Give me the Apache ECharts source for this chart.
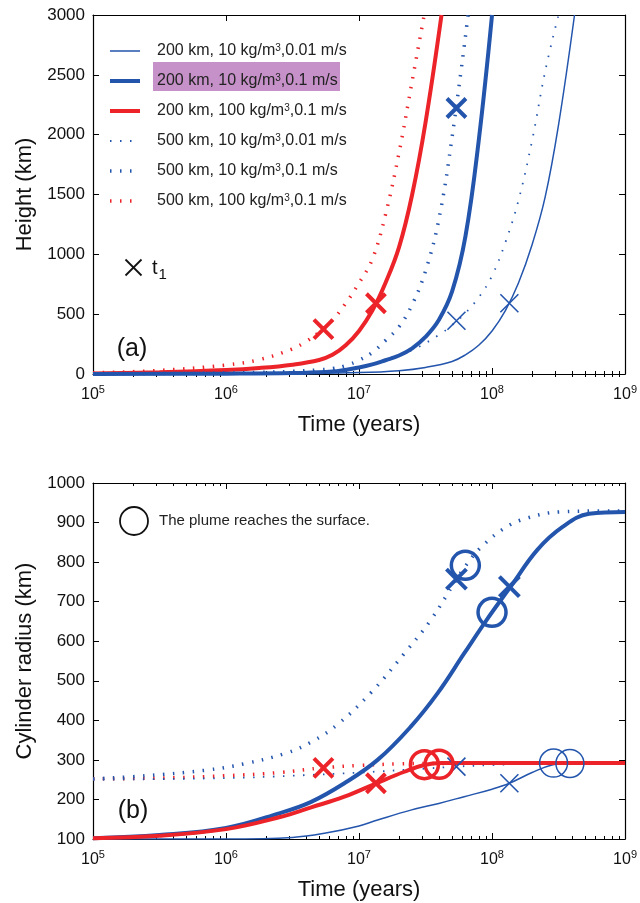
<!DOCTYPE html>
<html><head><meta charset="utf-8">
<script src="https://cdn.jsdelivr.net/npm/echarts@6/dist/echarts.min.js"></script>
<style>html,body{margin:0;padding:0;background:#fff}#c{width:640px;height:903px}</style>
</head><body><div id="c"></div>
<script>
// ---------- labels ----------
const seriesNames = ['200 km, 10 kg/m³,0.01 m/s','200 km, 10 kg/m³,0.1 m/s','200 km, 100 kg/m³,0.1 m/s',
                     '500 km, 10 kg/m³,0.01 m/s','500 km, 10 kg/m³,0.1 m/s','500 km, 100 kg/m³,0.1 m/s'];
const timeTicks = [1e5, 1e6, 1e7, 1e8, 1e9];

// ---------- panel (a): height (km) ----------
const tA1 = [1e5,1e6,3.16e6,1e7,2e7,3.16e7,5.01e7,6.31e7,7.94e7,1e8,1.26e8,1.58e8,2e8,2.51e8,3.16e8,4.17e8];
const hA1 = [0,2,5,12,28,55,105,160,240,360,530,760,1080,1480,2080,3000];
const tA2 = [1e5,1e6,3.16e6,6.31e6,1e7,1.26e7,1.58e7,2e7,2.51e7,3.16e7,3.98e7,5.01e7,6.31e7,7.94e7,1e8];
const hA2 = [0,3,8,20,55,80,115,155,215,310,451,690,1150,1950,3000];
const tA3 = [1e5,3.16e5,1e6,1.78e6,3.16e6,5.01e6,6.31e6,7.94e6,1e7,1.26e7,1.58e7,2e7,2.51e7,3.16e7,4.17e7];
const hA3 = [5,15,33,50,78,117,160,240,360,530,760,1060,1500,2100,3000];
const tA4 = [1e5,1e6,3.16e6,7.94e6,1e7,1.58e7,2.51e7,3.98e7,5.01e7,6.31e7,7.94e7,1e8,1.26e8,1.58e8,2e8,2.51e8,3.16e8];
const hA4 = [0,5,15,39,50,120,200,326,410,510,640,820,1100,1450,1950,2530,3000];
const tA5 = [1e5,3.16e5,1e6,1.78e6,3.16e6,5.01e6,6.31e6,7.94e6,1e7,1.26e7,1.58e7,2e7,2.51e7,3.16e7,3.98e7,5.01e7,6.61e7];
const hA5 = [0,3,8,14,22,35,45,70,115,180,280,395,580,860,1290,1980,3000];
const tA6 = [1e5,3.16e5,1e6,1.78e6,3.16e6,3.98e6,5.01e6,6.31e6,7.94e6,1e7,1.26e7,1.58e7,2e7,2.51e7,3.09e7];
const hA6 = [10,30,75,120,210,270,350,450,590,760,960,1330,1850,2450,3000];
// t1 markers (a)
const t1ThinBlueA_t = [5.4e7, 1.35e8], t1ThinBlueA_h = [445, 591];
const t1ThickBlueA_t = [5.4e7], t1ThickBlueA_h = [2223];
const t1RedA_t = [5.4e6, 1.34e7], t1RedA_h = [375, 591];

// ---------- panel (b): cylinder radius (km) ----------
const tB1 = [1e5,1e6,3.16e6,5.62e6,1e7,1.38e7,2.45e7,3.98e7,6.17e7,1e8,1.35e8,2e8,2.82e8,3.98e8,1e9];
const rB1 = [100,100,104,115,133,148,173,190,207,226,241,268,287,292,292];
const tB2 = [1e5,3.16e5,1e6,2.51e6,4.37e6,7.76e6,1.38e7,2.45e7,3.89e7,6.17e7,9.12e7,1.38e8,2.19e8,3.39e8,5.37e8,1e9];
const rB2 = [102,110,128,165,194,241,300,384,468,569,654,738,831,889,922,927];
const tB3 = [1e5,3.16e5,1e6,2.51e6,4.37e6,7.76e6,1.35e7,2.19e7,3.09e7,4.17e7,1e9];
const rB3 = [102,108,125,155,180,207,241,270,287,292,292];
const tB4 = [1e5,1e6,3.16e6,1e7,3.16e7,5.37e7,1e8,2e8,3.16e8,1e9];
const rB4 = [250,254,260,268,278,283,287,291,292,292];
const tB5 = [1e5,2.51e5,7.08e5,1.41e6,2.82e6,4.37e6,6.92e6,1.23e7,2.19e7,3.47e7,5.37e7,6.31e7,8.13e7,1.23e8,1.82e8,3.24e8,5.75e8,1e9];
const rB5 = [252,260,274,291,317,345,390,470,569,654,755,790,835,885,911,927,929,929];
const tB6 = [1e5,3.16e5,1e6,2.51e6,5.37e6,1e7,2e7,3.16e7,1e9];
const rB6 = [252,254,260,268,280,286,290,291,292];
// t1 markers (b)
const t1ThinBlueB_t = [5.4e7, 1.35e8], t1ThinBlueB_r = [283, 241];
const t1ThickBlueB_t = [5.4e7, 1.35e8], t1ThickBlueB_r = [757, 738];
const t1RedB_t = [5.4e6, 1.34e7], t1RedB_r = [280, 241];
// surface-reached markers (b)
const surfThickBlue_t = [6.3e7, 1.0e8], surfThickBlue_r = [792, 673];
const surfRed_t = [3.1e7, 4.0e7], surfRed_r = [288, 289];
const surfThinBlue_t = [2.9e8, 3.85e8], surfThinBlue_r = [292, 291];

// ---------- styling ----------
const FONT = '"Liberation Sans", Arial, Helvetica, sans-serif';
const BLUE = '#2355ad', RED = '#ec2328';
const XPATH = 'path://M0,0L10,10M10,0L0,10';
const zip = (a, b) => a.map((v, i) => [v, b[i]]);

const minorTicks = [];
for (let e = 5; e < 9; e++) for (let k = 2; k <= 9; k++) minorTicks.push(k * Math.pow(10, e));

function xAxesFor(g) {
  const base = {type: 'log', logBase: 10, min: 1e5, max: 1e9, gridIndex: g, splitLine: {show: false},
                axisLabel: {show: false}, axisPointer: {show: false}};
  const line = {show: true, onZero: false, lineStyle: {color: '#000', width: 1.2}};
  const tk = (vals, len) => ({show: true, inside: true, length: len, customValues: vals, lineStyle: {color: '#000', width: 1}});
  return [
    Object.assign({}, base, {position: 'bottom', axisLine: line, axisTick: tk(timeTicks, 6),
      axisLabel: {show: true, customValues: timeTicks, margin: 10,
        formatter: v => '{b|10}{s|' + Math.round(Math.log10(v)) + '}',
        rich: {b: {fontSize: 16, lineHeight: 16, padding: [6, 0, 0, 0], color: '#111', fontFamily: FONT},
               s: {fontSize: 11, lineHeight: 11, verticalAlign: 'top', color: '#111', fontFamily: FONT}}},
      name: 'Time (years)', nameLocation: 'middle', nameGap: 40,
      nameTextStyle: {fontSize: 22, color: '#111', fontFamily: FONT}}),
    Object.assign({}, base, {position: 'bottom', axisLine: {show: false}, axisTick: tk(minorTicks, 3)}),
    Object.assign({}, base, {position: 'top', axisLine: line, axisTick: tk(timeTicks, 6)}),
    Object.assign({}, base, {position: 'top', axisLine: {show: false}, axisTick: tk(minorTicks, 3)})
  ];
}
function yAxesFor(g, min, max, interval, name) {
  const line = {show: true, onZero: false, lineStyle: {color: '#000', width: 1.2}};
  return [
    {type: 'value', gridIndex: g, min, max, interval, position: 'left', axisLine: line,
     axisTick: {inside: true, length: 6, lineStyle: {color: '#000'}}, splitLine: {show: false},
     axisLabel: {fontSize: 17, color: '#111', margin: 8, fontFamily: FONT, formatter: v => String(v)},
     name, nameLocation: 'middle', nameGap: 47, nameTextStyle: {fontSize: 22, color: '#111', fontFamily: FONT}},
    {type: 'value', gridIndex: g, min, max, interval, position: 'right', axisLine: line,
     axisTick: {inside: true, length: 6, lineStyle: {color: '#000'}}, splitLine: {show: false}, axisLabel: {show: false}}
  ];
}
function line(name, t, v, color, width, dotted, g) {
  return {type: 'line', name, xAxisIndex: 4 * g, yAxisIndex: 2 * g, data: zip(t, v),
    symbol: 'none', showSymbol: false, smooth: 0.4, z: 2, silent: true,
    lineStyle: {color, width, type: dotted ? [1.5, 8.5] : 'solid', cap: 'butt'},
    itemStyle: {color}};
}
function marks(t, v, g, color, size, bw, symbol) {
  return {type: 'scatter', xAxisIndex: 4 * g, yAxisIndex: 2 * g, data: zip(t, v), symbol,
    symbolSize: size, z: 3, silent: true,
    itemStyle: {color: 'rgba(0,0,0,0)', borderColor: color, borderWidth: bw, opacity: 1}};
}

const series = [
  line(seriesNames[5], tA6, hA6, RED, 3.5, true, 0),
  line(seriesNames[2], tA3, hA3, RED, 4, false, 0),
  line(seriesNames[4], tA5, hA5, BLUE, 3.5, true, 0),
  line(seriesNames[1], tA2, hA2, BLUE, 4, false, 0),
  line(seriesNames[3], tA4, hA4, BLUE, 1.8, true, 0),
  line(seriesNames[0], tA1, hA1, BLUE, 1.5, false, 0),
  marks(t1ThinBlueA_t, t1ThinBlueA_h, 0, BLUE, 18, 1.6, XPATH),
  marks(t1ThickBlueA_t, t1ThickBlueA_h, 0, BLUE, 19, 4, XPATH),
  marks(t1RedA_t, t1RedA_h, 0, RED, 19, 4, XPATH),

  line(seriesNames[5], tB6, rB6, RED, 3.5, true, 1),
  line(seriesNames[3], tB4, rB4, BLUE, 1.8, true, 1),
  line(seriesNames[4], tB5, rB5, BLUE, 3.5, true, 1),
  line(seriesNames[1], tB2, rB2, BLUE, 4, false, 1),
  line(seriesNames[0], tB1, rB1, BLUE, 1.5, false, 1),
  line(seriesNames[2], tB3, rB3, RED, 4, false, 1),
  marks(t1ThinBlueB_t, t1ThinBlueB_r, 1, BLUE, 18, 1.6, XPATH),
  marks(t1ThickBlueB_t, t1ThickBlueB_r, 1, BLUE, 20, 4, XPATH),
  marks(t1RedB_t, t1RedB_r, 1, RED, 19, 4, XPATH),
  marks(surfThickBlue_t, surfThickBlue_r, 1, BLUE, 28, 3.5, 'circle'),
  marks(surfRed_t, surfRed_r, 1, RED, 28, 3.5, 'circle'),
  marks(surfThinBlue_t, surfThinBlue_r, 1, BLUE, 28, 1.5, 'circle')
];

const chart = echarts.init(document.getElementById('c'), null, {renderer: 'canvas'});
chart.setOption({
  animation: false,
  backgroundColor: '#fff',
  grid: [{left: 93, right: 14, top: 15, height: 359}, {left: 93, right: 14, top: 483, height: 356}],
  xAxis: [...xAxesFor(0), ...xAxesFor(1)],
  yAxis: [...yAxesFor(0, 0, 3000, 500, 'Height (km)'), ...yAxesFor(1, 100, 1000, 100, 'Cylinder radius (km)')],
  legend: {
    data: seriesNames, orient: 'vertical', left: 103, top: 38, itemWidth: 30, itemHeight: 14, itemGap: 14,
    selectedMode: false, z: 5,
    itemStyle: {opacity: 0},
    lineStyle: {width: 'inherit', type: 'inherit', opacity: 1},
    formatter: n => { const p = n.split('³'); return '{a|' + p[0] + '}{s|3}{a|' + p[1] + '}'; },
    textStyle: {padding: [0, 0, 0, 12],
      rich: {a: {fontSize: 16, lineHeight: 16, color: '#222', fontFamily: FONT},
             s: {fontSize: 10, lineHeight: 10, verticalAlign: 'top', color: '#222', fontFamily: FONT}}}
  },
  graphic: [
    {type: 'rect', z: 1, shape: {x: 153, y: 62, width: 187, height: 29}, style: {fill: '#c690c8'}},
    {type: 'line', z: 6, shape: {x1: 125.5, y1: 259.5, x2: 141.5, y2: 275.5}, style: {stroke: '#111', lineWidth: 1.8}},
    {type: 'line', z: 6, shape: {x1: 141.5, y1: 259.5, x2: 125.5, y2: 275.5}, style: {stroke: '#111', lineWidth: 1.8}},
    {type: 'text', z: 6, x: 152, y: 268, style: {text: '{t|t}{s|1}', verticalAlign: 'middle',
      rich: {t: {fontSize: 20, lineHeight: 20, fill: '#111', fontFamily: FONT},
             s: {fontSize: 15, lineHeight: 15, padding: [14, 0, 0, 1], fill: '#111', fontFamily: FONT}}}},
    {type: 'text', z: 6, x: 132, y: 349, style: {text: '(a)', fontSize: 25, fill: '#111', fontFamily: FONT, align: 'center', verticalAlign: 'middle'}},
    {type: 'text', z: 6, x: 133, y: 811, style: {text: '(b)', fontSize: 25, fill: '#111', fontFamily: FONT, align: 'center', verticalAlign: 'middle'}},
    {type: 'circle', z: 6, shape: {cx: 134, cy: 521, r: 14}, style: {fill: 'none', stroke: '#111', lineWidth: 1.8}},
    {type: 'text', z: 6, x: 159, y: 521, style: {text: 'The plume reaches the surface.', fontSize: 15, fill: '#222', fontFamily: FONT, verticalAlign: 'middle'}}
  ],
  series
});
</script></body></html>
